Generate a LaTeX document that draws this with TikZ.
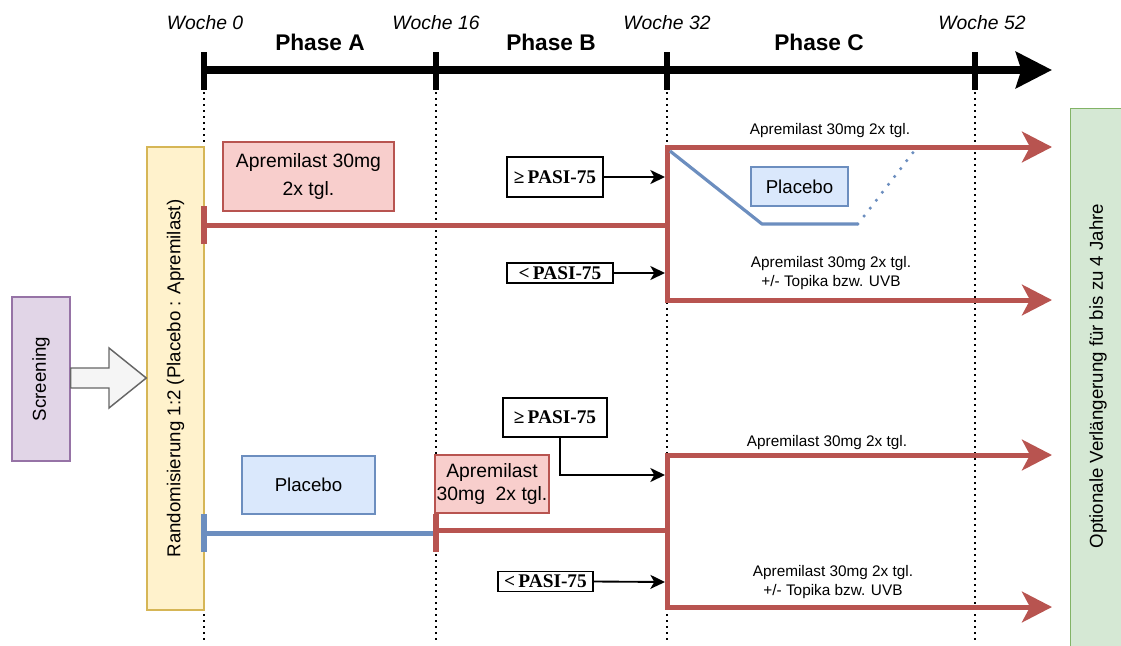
\documentclass[tikz,border=0pt]{standalone}
\usepackage{fontspec}
\setmainfont{Liberation Sans}
\newfontfamily\serifb{Liberation Serif}
\usetikzlibrary{arrows.meta}
\definecolor{redc}{HTML}{B85450}
\definecolor{redf}{HTML}{F8CECC}
\definecolor{bluec}{HTML}{6C8EBF}
\definecolor{bluef}{HTML}{DAE8FC}
\definecolor{yelc}{HTML}{D6B656}
\definecolor{yelf}{HTML}{FFF2CC}
\definecolor{purc}{HTML}{9673A6}
\definecolor{purf}{HTML}{E1D5E7}
\definecolor{grnc}{HTML}{82B366}
\definecolor{grnf}{HTML}{D5E8D4}
\definecolor{grayc}{HTML}{666666}
\definecolor{grayf}{HTML}{F5F5F5}
\tikzset{
  sz/.style 2 args={minimum width={#1*0.75pt}, minimum height={#2*0.75pt}},
  box/.style={draw, line width=1.1pt, inner sep=0pt, align=center},
  bigfont/.style={font=\fontsize{14}{17}\selectfont},
  smallfont/.style={font=\fontsize{11.5}{14.2}\selectfont, align=center, inner sep=0pt},
  pasi/.style={draw=black, fill=white, line width=1.1pt, inner sep=0pt, font=\serifb\bfseries\fontsize{14.5}{16}\selectfont},
  blk/.style={draw=black, line width=1.4pt, -{Stealth[length=11pt,width=10.5pt,inset=3pt]}},
  redline/.style={draw=redc, line width=3.75pt},
  redarrow/.style={redline, -{Stealth[length=22.5pt,width=23pt,inset=6pt]}},
  blueline/.style={draw=bluec, line width=3.75pt},
  tbar/.style={line width=4.5pt},
  vdots/.style={draw=black, line width=1.2pt, dash pattern=on 1.2pt off 3.3pt},
  woche/.style={font=\itshape\fontsize{14.5}{17}\selectfont, inner sep=0pt},
  phase/.style={font=\bfseries\fontsize{17}{20}\selectfont, inner sep=0pt},
}
\begin{document}
\begin{tikzpicture}[x=0.75pt,y=-0.75pt]
\useasboundingbox (0,0) rectangle (1121,646);

% dotted week lines
\foreach \xx in {204,436,667,975}{
  \draw[vdots] (\xx,92) -- (\xx,642);
}

% timeline
\coordinate (t0) at (201,70);
\coordinate (tend) at (1052,70);
\draw[line width=6pt, -{Stealth[length=27pt,width=27pt,inset=4pt]}] (t0) -- (tend);
\foreach \xx in {204,436,667,975}{
  \draw[line width=5pt] (\xx,52) -- (\xx,90);
}
\node[woche] (w0) at (205,23) {Woche 0};
\node[woche] (w16) at (436,23) {Woche 16};
\node[woche] (w32) at (667,23) {Woche 32};
\node[woche] (w52) at (982,23) {Woche 52};
\node[phase] (pA) at (320,42) {Phase A};
\node[phase] (pB) at (551,42) {Phase B};
\node[phase] (pC) at (819,42) {Phase C};

% screening and randomisation
\node[box, bigfont, draw=purc, fill=purf, sz={58}{164}] (scr) at (41,379) {\rotatebox{90}{Screening}};
\node[box, bigfont, draw=yelc, fill=yelf, sz={57}{463}] (rand) at (175.5,378.5) {\rotatebox{90}{Randomisierung 1:2 (Placebo : Apremilast)}};
\draw[draw=grayc, fill=grayf, line width=1.1pt, line join=miter]
  (scr.east |- 0,368) -- (109,368) -- (109,348) -- (rand.west |- 0,378) -- (109,408) -- (109,388) -- (scr.east |- 0,388) -- cycle;

% extension box
\node[box, draw=grnc, fill=grnf, sz={60}{560}, anchor=north west] (ext) at (1070,108) {};
\node[bigfont, inner sep=0pt] (extt) at (1098,376) {\rotatebox{90}{Optionale Verlängerung für bis zu 4 Jahre}};

% ---------- upper arm (Apremilast) ----------
\coordinate (uA) at (204,225);
\coordinate (uJ) at (667,225);
\coordinate (uTa) at (204,206);
\coordinate (uTb) at (204,244);
\coordinate (ute) at (1052,147);
\coordinate (ube) at (1052,300);
\draw[redline] (uA) -- (uJ);
\draw[redline, tbar] (uTa) -- (uTb);
\draw[redarrow, line join=miter] (uJ) |- (ute);
\draw[redarrow, line join=miter] (uJ) |- (ube);

\node[box, draw=redc, fill=redf, sz={171}{69}, font=\fontsize{14.5}{21}\selectfont] (uapr) at (308.5,176.5) {Apremilast 30mg\\2x tgl.};

\coordinate (bl1) at (670,151);
\coordinate (bl2) at (762,224);
\coordinate (bl3) at (858,224);
\coordinate (bl4) at (915,150);
\draw[draw=bluec, line width=2.4pt, line join=round] (bl1) -- (bl2) -- (bl3);
\draw[draw=bluec, line width=2.6pt, line cap=round, dash pattern=on 0pt off 7.5pt] (bl3) -- (bl4);
\node[box, bigfont, draw=bluec, fill=bluef, sz={97}{39}] (uplac) at (799.5,186.5) {Placebo};

\node[smallfont] (ulab1) at (830,131) {Apremilast 30mg 2x tgl.};
\node[smallfont] (ulab2) at (831,273) {Apremilast 30mg 2x tgl.\\+/- Topika bzw. UVB};

\node[pasi, sz={96}{40}] (p1) at (555,177) {≥\,PASI-75};
\node[pasi, sz={106}{20}] (p2) at (560,273) {<\,PASI-75};
\coordinate (a1) at (665,177);
\coordinate (a2) at (665,273);
\draw[blk] (p1.east) -- (a1);
\draw[blk] (p2.east) -- (a2);

% ---------- lower arm (Placebo) ----------
\coordinate (lA) at (204,533);
\coordinate (lB) at (436,533);
\coordinate (lTa) at (204,514);
\coordinate (lTb) at (204,552);
\coordinate (lRa) at (436,514);
\coordinate (lRb) at (436,552);
\coordinate (lR) at (436,530);
\coordinate (lJ) at (667,530);
\coordinate (lte) at (1052,455);
\coordinate (lbe) at (1052,607);
\draw[blueline] (lA) -- (lB);
\draw[blueline, tbar] (lTa) -- (lTb);
\draw[redline] (lR) -- (lJ);
\draw[redline, tbar] (lRa) -- (lRb);
\draw[redarrow, line join=miter] (lJ) |- (lte);
\draw[redarrow, line join=miter] (lJ) |- (lbe);

\node[box, bigfont, draw=bluec, fill=bluef, sz={133}{58}] (lplac) at (308.5,485) {Placebo};
\node[box, draw=redc, fill=redf, sz={114}{58}, font=\fontsize{14.5}{17}\selectfont] (lapr) at (492,484) {Apremilast\\30mg\ \ 2x tgl.};

\node[smallfont] (llab1) at (827,443) {Apremilast 30mg 2x tgl.};
\node[smallfont] (llab2) at (833,582) {Apremilast 30mg 2x tgl.\\+/- Topika bzw. UVB};

\node[pasi, sz={104}{39}] (p3) at (555,417.5) {≥\,PASI-75};
\node[pasi, sz={95}{20}] (p4) at (545.5,581.5) {<\,PASI-75};
\coordinate (a3) at (665,475);
\coordinate (a4) at (665,582);
\draw[blk] ([xshift=3.75pt]p3.south) |- (a3);
\draw[blk] (p4.east) -- (a4);

\end{tikzpicture}
\end{document}
